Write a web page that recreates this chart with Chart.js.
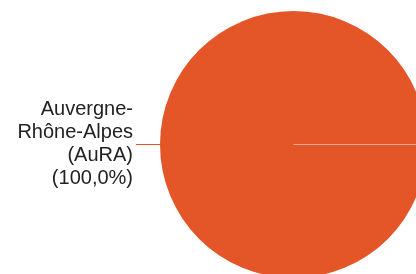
<!DOCTYPE html>
<html>
<head>
<meta charset="utf-8">
<script src="https://cdn.jsdelivr.net/npm/chart.js@4/dist/chart.umd.min.js"></script>
<style>
  html, body { margin: 0; padding: 0; background: #fff; }
  #wrap { position: relative; width: 416px; height: 274px; overflow: hidden; }
  #chart { position: absolute; left: 0; top: 0; }
</style>
</head>
<body>
<div id="wrap"><canvas id="chart" width="430" height="290"></canvas></div>
<script>
// region and its share of answers
const categories = ['Auvergne-Rhône-Alpes (AuRA)'];
const categoryLines = [['Auvergne-', 'Rhône-Alpes', '(AuRA)']];
const values = [100];
const colors = ['#e45528'];

// side label with leader line + thin seam line at slice start
const sideLabels = {
    id: 'sideLabels',
    afterDatasetsDraw(chart) {
        const ctx = chart.ctx;
        const meta = chart.getDatasetMeta(0);
        const total = values.reduce((a, b) => a + b, 0);
        meta.data.forEach(function (arc, i) {
            const r = arc.outerRadius;
            const ly = Math.floor(arc.y) + 0.5;
            ctx.save();
            // seam
            ctx.strokeStyle = 'rgba(255,255,255,0.5)';
            ctx.lineWidth = 1;
            ctx.beginPath();
            ctx.moveTo(arc.x, ly);
            ctx.lineTo(arc.x + r, ly);
            ctx.stroke();
            // leader line
            ctx.strokeStyle = colors[i];
            ctx.beginPath();
            ctx.moveTo(arc.x - r - 24, ly);
            ctx.lineTo(arc.x - r + 1, ly);
            ctx.stroke();
            // text
            const pct = '(' + (values[i] / total * 100).toFixed(1).replace('.', ',') + '%)';
            const lines = categoryLines[i].concat([pct]);
            const lh = 23;
            ctx.font = '20px "Liberation Sans", Arial, sans-serif';
            ctx.fillStyle = '#222222';
            ctx.textAlign = 'right';
            ctx.textBaseline = 'alphabetic';
            const x = arc.x - r - 27;
            const y0 = arc.y + 5 - lh * (lines.length - 1) / 2;
            lines.forEach(function (t, k) {
                ctx.fillText(t, x, y0 + k * lh);
            });
            ctx.restore();
        });
    }
};

new Chart(document.getElementById('chart').getContext('2d'), {
    type: 'pie',
    data: {
        labels: categories,
        datasets: [{ data: values, backgroundColor: colors, borderWidth: 0 }]
    },
    options: {
        responsive: false,
        animation: false,
        rotation: 90,
        layout: { padding: { left: 160, right: 3, top: 11, bottom: 12 } },
        plugins: {
            legend: { display: false },
            tooltip: { enabled: false }
        }
    },
    plugins: [sideLabels]
});
</script>
</body>
</html>
